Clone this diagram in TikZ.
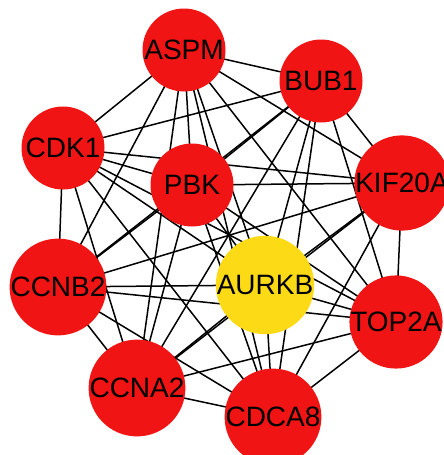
\documentclass[tikz,border=0pt]{standalone}
\usepackage{fontspec}
\setmainfont{Liberation Sans}
\definecolor{nodered}{RGB}{240,20,20}
\definecolor{nodeyellow}{RGB}{252,218,22}
\pgfdeclarelayer{bg}
\pgfsetlayers{bg,main}
\begin{document}
\begin{tikzpicture}[x=1pt,y=-1pt,
  gene/.style={circle,fill=nodered,minimum size=83pt,inner sep=0pt,font=\fontsize{28}{28}\selectfont},
  hub/.style={gene,fill=nodeyellow},
  edge/.style={line width=1.5pt,black}]
\useasboundingbox (0,0) rectangle (444,455);
\node[gene] (ASPM) at (184,50) {ASPM};
\node[gene] (BUB1) at (321,81) {BUB1};
\node[gene] (CDK1) at (63,148) {CDK1};
\node[gene] (PBK) at (192,185) {PBK};
\node[gene] (KIF20A) at (402,183) {KIF20A};
\node[gene] (CCNB2) at (58,287) {CCNB2};
\node[hub] (AURKB) at (265,285) {AURKB};
\node[gene] (TOP2A) at (396,322) {TOP2A};
\node[gene] (CCNA2) at (137,388) {CCNA2};
\node[gene] (CDCA8) at (273,417) {CDCA8};
\begin{pgfonlayer}{bg}
\foreach \a/\b in {ASPM/BUB1,ASPM/CDK1,ASPM/PBK,ASPM/KIF20A,ASPM/CCNB2,ASPM/AURKB,ASPM/TOP2A,ASPM/CCNA2,ASPM/CDCA8,
  BUB1/CDK1,BUB1/PBK,BUB1/KIF20A,BUB1/CCNB2,BUB1/AURKB,BUB1/TOP2A,BUB1/CCNA2,BUB1/CDCA8,
  CDK1/PBK,CDK1/KIF20A,CDK1/CCNB2,CDK1/AURKB,CDK1/TOP2A,CDK1/CCNA2,CDK1/CDCA8,
  PBK/KIF20A,PBK/CCNB2,PBK/AURKB,PBK/TOP2A,PBK/CCNA2,PBK/CDCA8,
  KIF20A/CCNB2,KIF20A/AURKB,KIF20A/TOP2A,KIF20A/CCNA2,KIF20A/CDCA8,
  CCNB2/AURKB,CCNB2/TOP2A,CCNB2/CCNA2,CCNB2/CDCA8,
  AURKB/TOP2A,AURKB/CCNA2,AURKB/CDCA8,
  TOP2A/CCNA2,TOP2A/CDCA8,CCNA2/CDCA8}
  \draw[edge] (\a.center) -- (\b.center);
\end{pgfonlayer}
\end{tikzpicture}
\end{document}
